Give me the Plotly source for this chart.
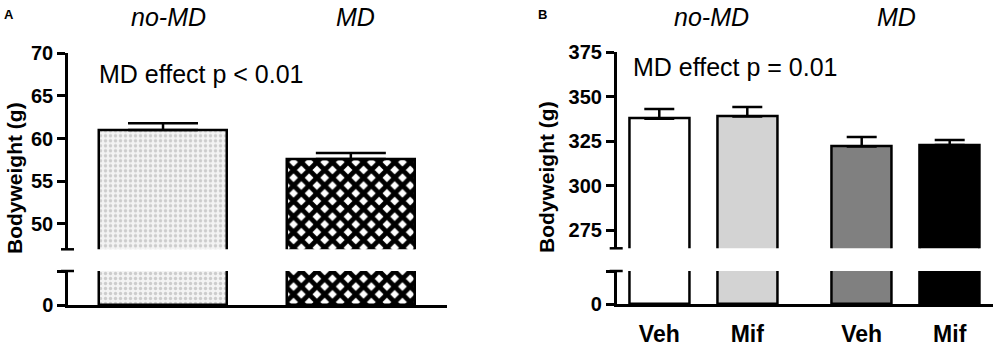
import plotly.graph_objects as go

# ---------------- data ----------------
groups_a = ["no-MD", "MD"]
weight_a = [61.0, 57.6]
sem_a = [0.8, 0.7]

groups_b = ["no-MD", "no-MD", "MD", "MD"]
treat_b = ["Veh", "Mif", "Veh", "Mif"]
weight_b = [337.7, 339.0, 322.1, 323.0]
sem_b = [5.5, 5.3, 5.4, 2.8]

ticks_a = [50, 55, 60, 65, 70]
ticks_b = [275, 300, 325, 350, 375]

# ---------------- layout constants ----------------
W, H = 1000, 347
FONT = "Liberation Sans, Arial, sans-serif"
pos_a = [1, 2]
pos_b = [0, 1, 2.3, 3.3]

def px_x(p):
    return p / W

def px_y(p):
    return 1 - p / H

fig = go.Figure()

# Panel A patterns
pat_a = [
    dict(shape=".", fgcolor="#cccccc", bgcolor="#f3f3f3", size=5, solidity=0.35),
    dict(shape="x", fgcolor="#000000", bgcolor="#ffffff", size=11, solidity=0.68),
]
for i in range(len(groups_a)):
    for ya, err in (("y", True), ("y2", False)):
        fig.add_trace(go.Bar(
            x=[pos_a[i]], y=[weight_a[i]], xaxis="x", yaxis=ya,
            width=0.68,
            marker=dict(color="#ffffff", pattern=pat_a[i],
                        line=dict(color="black", width=2.5)),
            error_y=dict(type="data", array=[sem_a[i]], arrayminus=[0],
                         symmetric=False, visible=err, color="black",
                         thickness=2.5, width=35),
            showlegend=False, hoverinfo="skip",
        ))

# Panel B colours
cols_b = ["#ffffff", "#d3d3d3", "#808080", "#000000"]
for i in range(len(weight_b)):
    for ya, err in (("y3", True), ("y4", False)):
        fig.add_trace(go.Bar(
            x=[pos_b[i]], y=[weight_b[i]], xaxis="x2", yaxis=ya,
            width=0.68,
            marker=dict(color=cols_b[i], line=dict(color="black", width=2.5)),
            error_y=dict(type="data", array=[sem_b[i]], arrayminus=[0],
                         symmetric=False, visible=err, color="black",
                         thickness=2.5, width=15),
            showlegend=False, hoverinfo="skip",
        ))

tickfont = dict(family=FONT, size=20, color="black", weight="bold")
axline = dict(showline=True, linecolor="black", linewidth=2.5, showgrid=False,
              zeroline=False, ticks="outside", tickcolor="black", tickwidth=2.5,
              ticklen=8, tickfont=tickfont, automargin=False)

fig.update_layout(
    template="none",
    width=W, height=H, margin=dict(l=0, r=0, t=0, b=0, pad=0), autosize=False,
    plot_bgcolor="white", paper_bgcolor="white", bargap=0,
    xaxis=dict(domain=[px_x(68), px_x(447)], range=[0.494, 2.512], anchor="y2",
               showline=True, linecolor="black", linewidth=2.5, showticklabels=False,
               ticks="", showgrid=False, zeroline=False, automargin=False),
    yaxis=dict(domain=[px_y(249.3), px_y(53.3)], range=[47, 70], anchor="x",
               tickvals=ticks_a, **axline),
    yaxis2=dict(domain=[px_y(305), px_y(271)], range=[0, 10], anchor="x",
                tickvals=[0, 10], ticktext=["0", ""], **axline),
    xaxis2=dict(domain=[px_x(616.7), px_x(993)], range=[-0.484, 3.792], anchor="y4",
                showline=True, linecolor="black", linewidth=2.5, ticks="",
                tickvals=pos_b, ticktext=treat_b, ticklabelstandoff=8,
                tickfont=dict(family=FONT, size=23, color="black", weight="bold"),
                showgrid=False, zeroline=False, automargin=False),
    yaxis3=dict(domain=[px_y(248.3), px_y(52.3)], range=[265, 375], anchor="x2",
                tickvals=ticks_b, **axline),
    yaxis4=dict(domain=[px_y(304), px_y(271)], range=[0, 10], anchor="x2",
                tickvals=[0, 10], ticktext=["0", ""], **axline),
)

# axis-break crossing ticks
for xc, yu, yl in ((68, "y domain", "y2 domain"), (616.7, "y3 domain", "y4 domain")):
    for yref, yv in ((yu, 0), (yl, 1)):
        fig.add_shape(type="line", xref="paper", yref=yref,
                      x0=px_x(xc - 7), x1=px_x(xc + 6), y0=yv, y1=yv,
                      line=dict(color="black", width=2.5))

ann = []
def text(x, y, s, size, weight="normal", style="normal", xanchor="center", angle=0):
    ann.append(dict(x=px_x(x), y=px_y(y), xref="paper", yref="paper", text=s,
                    showarrow=False, xanchor=xanchor, yanchor="middle", textangle=angle,
                    font=dict(family=FONT, size=size, color="black", weight=weight, style=style)))

text(9, 14, "A", 13, weight="bold")
text(542, 14, "B", 13, weight="bold")
text(168, 17, groups_a[0], 25, style="italic")
text(355, 17, groups_a[1], 25, style="italic")
text(711.7, 17, groups_b[0], 25, style="italic")
text(896.7, 17, groups_b[2], 25, style="italic")
text(97, 74, "MD effect p &lt; 0.01", 25, xanchor="left")
text(631, 67, "MD effect p = 0.01", 25, xanchor="left")
text(14, 178, "Bodyweight (g)", 21, weight="bold", angle=-90)
text(547, 177, "Bodyweight (g)", 21, weight="bold", angle=-90)
fig.update_layout(annotations=ann)

fig.write_html("out.html", config={"displayModeBar": False},
               post_script="document.body.style.margin='0';document.body.style.padding='0';")
